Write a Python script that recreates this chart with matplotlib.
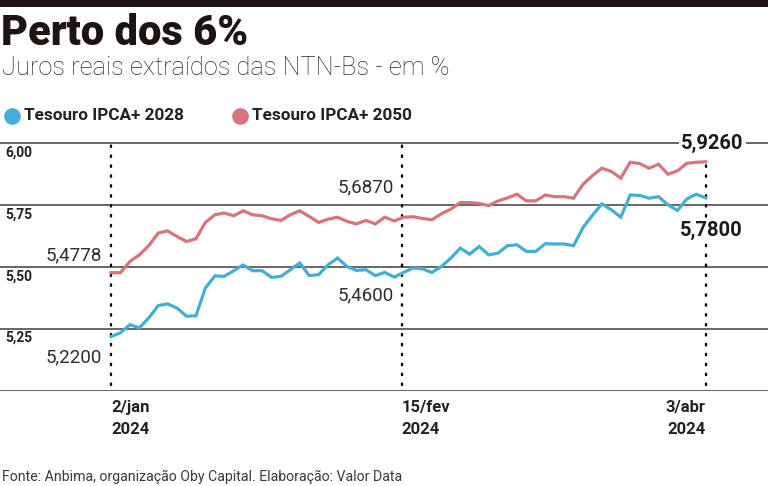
import matplotlib
matplotlib.use('Agg')
import matplotlib.pyplot as plt
import matplotlib.transforms as mtransforms
from matplotlib.lines import Line2D
import numpy as np

# dados: juros reais (% a.a.), pregões de 2/jan a 3/abr de 2024
ipca_2028 = [5.220, 5.235, 5.268, 5.255, 5.295, 5.345, 5.352, 5.335, 5.302, 5.304,
             5.416, 5.465, 5.463, 5.486, 5.509, 5.486, 5.486, 5.459, 5.463, 5.490,
             5.517, 5.466, 5.470, 5.510, 5.537, 5.503, 5.487, 5.490, 5.466, 5.479,
             5.460, 5.479, 5.497, 5.493, 5.479, 5.503, 5.537, 5.577, 5.553, 5.584,
             5.550, 5.557, 5.587, 5.591, 5.564, 5.564, 5.595, 5.594, 5.594, 5.587,
             5.660, 5.710, 5.756, 5.732, 5.702, 5.792, 5.790, 5.779, 5.785, 5.752,
             5.729, 5.776, 5.795, 5.780]
ipca_2050 = [5.4778, 5.478, 5.523, 5.550, 5.587, 5.638, 5.647, 5.624, 5.604, 5.615,
             5.681, 5.712, 5.719, 5.708, 5.728, 5.712, 5.708, 5.696, 5.689, 5.712,
             5.728, 5.705, 5.681, 5.694, 5.702, 5.685, 5.675, 5.689, 5.675, 5.702,
             5.687, 5.702, 5.704, 5.697, 5.692, 5.716, 5.735, 5.761, 5.761, 5.758,
             5.749, 5.768, 5.780, 5.795, 5.768, 5.768, 5.792, 5.785, 5.785, 5.779,
             5.835, 5.870, 5.900, 5.887, 5.860, 5.924, 5.919, 5.900, 5.916, 5.876,
             5.889, 5.920, 5.924, 5.926]
series_names = ['Tesouro IPCA+ 2028', 'Tesouro IPCA+ 2050']
date_labels = ['2/jan\n2024', '15/fev\n2024', '3/abr\n2024']
date_idx = [0, 30, 63]
y_ticks = [5.25, 5.50, 5.75, 6.00]
y_tick_labels = ['5,25', '5,50', '5,75', '6,00']

BLUE = '#45aed6'
RED = '#d9737c'
GRID = '#5a5a5a'
INK = '#222222'

W, H = 768, 486
fig = plt.figure(figsize=(W / 100, H / 100), dpi=100)
fig.patch.set_facecolor('white')

def fx(px):
    return px / W

def fy(py):
    return 1 - py / H

# eixo ocupa toda a largura; 5,00 na linha de base
x0_px, step_px = 111, 9.44
y_bot_px, y_top_px = 391, 130
ax = fig.add_axes([0, fy(y_bot_px), 1, (y_bot_px - y_top_px) / H])
ax.set_xlim(-x0_px / step_px, (W - x0_px) / step_px)
ax.set_ylim(5.0, 6.0 + (143.5 - y_top_px) / 248)
ax.axis('off')

x = np.arange(len(ipca_2028))

for v in [5.0] + y_ticks:
    ax.axhline(v, color=GRID, lw=1.3, zorder=1)

blend = mtransforms.blended_transform_factory(fig.transFigure, ax.transData)
for v, lab in zip(y_ticks, y_tick_labels):
    ax.text(fx(5), v - 0.036, lab, transform=blend, ha='left', va='center',
            fontsize=10, fontweight='bold', color=INK, family='Roboto')

# linhas verticais pontilhadas nas datas destacadas
vline_x = [date_idx[0], date_idx[1] + 0.8, date_idx[2]]
vline_top = [6.0, 6.0, ipca_2050[-1]]
for xv, top in zip(vline_x, vline_top):
    ax.plot([xv, xv], [5.025, top], color='black', lw=1.7,
            linestyle=(0, (0.6, 3.6)), dash_capstyle='round', zorder=2)

ax.plot(x, ipca_2050, color=RED, lw=2.3, zorder=3, solid_joinstyle='miter')
ax.plot(x, ipca_2028, color=BLUE, lw=2.3, zorder=3, solid_joinstyle='miter')

# valores anotados
light = dict(fontsize=13.5, color='#2e2e2e', family='Roboto', fontweight='normal')
ax.text(-1.0, ipca_2050[0] + 0.07, '5,4778', ha='right', va='center', **light)
ax.text(-1.0, ipca_2028[0] - 0.085, '5,2200', ha='right', va='center', **light)
ax.text(30.0, ipca_2050[30] + 0.135, '5,6870', ha='right', va='center', **light)
ax.text(30.0, ipca_2028[30] - 0.075, '5,4600', ha='right', va='center', **light)
bold = dict(fontsize=14.5, color='#1a1a1a', family='Roboto', fontweight='bold',
            bbox=dict(facecolor='white', edgecolor='none', pad=1.5), zorder=4)
ax.text(63.7, 6.0, '5,9260', ha='center', va='center', **bold)
ax.text(63.6, ipca_2028[-1] - 0.13, '5,7800', ha='center', va='center', **bold)

# rótulos de datas
aligns = ['left', 'left', 'right']
for xv, lab, al in zip(vline_x, date_labels, aligns):
    fig.text(fx(x0_px + xv * step_px), fy(400), lab, ha=al, va='top',
             fontsize=12, fontweight='bold', color=INK, family='Roboto',
             linespacing=1.6)

# faixa superior, título e subtítulo
fig.add_artist(plt.Rectangle((0, fy(7)), 1, 7 / H, transform=fig.transFigure,
                             color='#1c1412', lw=0))
fig.text(fx(1), fy(45), 'Perto dos 6%', ha='left', va='baseline', fontsize=30,
         fontweight='black', color='#1c1412', family='Roboto')
fig.text(fx(2), fy(75), 'Juros reais extraídos das NTN-Bs - em %', ha='left',
         va='baseline', fontsize=18.3, fontweight='light', color='#2a2a2a',
         family='Roboto')

# legenda
for px, name, col in zip([12, 240], series_names, [BLUE, RED]):
    fig.add_artist(Line2D([fx(px)], [fy(116)], marker='o', markersize=11,
                          color=col, transform=fig.transFigure))
    fig.text(fx(px + 12), fy(116), name, ha='left', va='center', fontsize=12.3,
             fontweight='bold', color=INK, family='Roboto')

fig.text(fx(2), fy(477), 'Fonte: Anbima, organização Oby Capital. Elaboração: Valor Data',
         ha='left', va='center', fontsize=10.2, fontweight='normal', color='#3a3a3a',
         family='Roboto')

fig.savefig('out.png', dpi=100)
